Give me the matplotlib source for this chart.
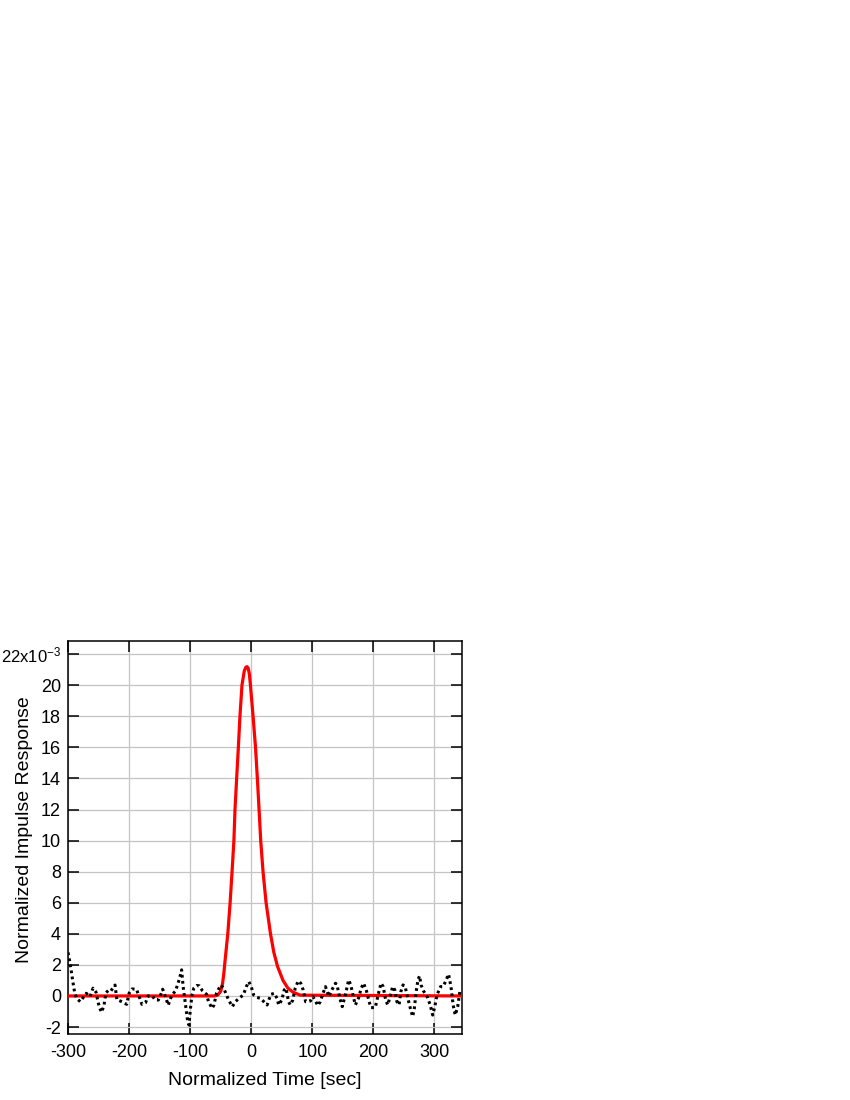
"""
Normalized impulse response: fitted pulse (red) vs. residual noise (dotted).
"""

import numpy as np
import matplotlib.pyplot as plt

plt.rcParams["font.family"] = ["Liberation Sans", "DejaVu Sans"]
plt.rcParams["axes.unicode_minus"] = False
plt.rcParams["mathtext.default"] = "regular"

# ---------- Data (values in units of 1e-3) ----------
t_pulse = [-300, -60, -55, -50, -47, -45, -42.8, -38.4, -34.6, -31.4, -28.4,
           -26.6, -23.9, -21.1, -18.5, -15.2, -11.5, -9, -7, -5, -3, -1.3,
           3, 7, 10, 12.8, 15.5, 19.3, 24.3, 31.5, 37, 43, 52, 60, 68, 80, 345]
y_pulse = [0, 0, 0.05, 0.3, 0.8, 1.4, 2.3, 4, 6, 8, 10,
           12, 14, 16, 18, 20, 20.9, 21.15, 21.2, 21.1, 20.7, 20,
           18, 16, 14, 12, 10, 8, 6, 4, 2.8, 1.9, 1.0, 0.5, 0.25, 0.05, 0]

t_noise = [-300, -298, -295, -292, -289, -286, -280, -275, -270, -264,
           -259, -254, -251, -248, -245, -241, -238, -234, -230, -226,
           -223, -220, -216, -210, -204, -200, -195, -188, -182, -179,
           -173, -169, -162, -157, -152, -148, -145, -140, -136, -130,
           -124, -119, -116, -114, -111.5, -109, -106, -104, -102, -99.5,
           -97, -94, -89, -85, -80, -73, -70, -64, -61, -57,
           -50, -45, -41, -37, -31, -26, -20, -13, -8, -4,
           0, 4, 9.5, 15, 20.5, 26, 32, 38, 42, 45,
           50, 54, 57, 61, 64, 68, 72, 77, 81, 85,
           89, 93, 97, 101, 105, 109, 113, 117.5, 121.5, 127,
           132, 138, 141, 145, 149, 154, 159.5, 163, 167, 170.5,
           176, 180, 184, 189, 193, 196, 203, 209, 212.5, 216,
           220, 223.5, 228, 231.5, 235, 238.5, 242, 245, 248.5, 252,
           255, 260.5, 264.3, 267, 270, 273, 275.5, 278, 282, 288,
           293, 297, 300.5, 304, 310, 314, 318, 323, 327, 330.5,
           334, 338, 341.5, 345]
y_noise = [2.8, 2.4, 1.7, 0.9, 0.2, -0.15, -0.37, -0.1, 0.17, -0.04,
           0.5, 0.24, -0.37, -0.8, -1.05, -0.6, 0.2, 0.35, 0.3, 0.55,
           0.7, -0.25, -0.3, -0.4, -0.54, 0.17, 0.45, 0.43, -0.2, -0.54,
           -0.43, 0.0, 0.0, -0.26, -0.26, 0.1, 0.43, -0.1, -0.6, 0.06,
           0.32, 0.92, 1.35, 1.68, 0.6, -0.15, -1.0, -1.66, -1.87, -0.8,
           0.06, 0.5, 0.67, 0.65, 0.34, 0.1, -0.37, -0.8, -0.58, 0.17,
           0.7, 0.5, 0.1, -0.26, -0.69, -0.37, -0.15, 0.06, 0.6, 0.92,
           0.6, 0.06, -0.1, -0.15, -0.37, -0.58, 0.1, 0.17, -0.15, -0.58,
           -0.26, 0.39, 0.5, -0.37, -0.58, -0.26, 0.5, 0.97, 0.82, 0.39,
           -0.37, -0.37, -0.32, -0.04, -0.32, -0.62, -0.37, 0.17, 0.6, -0.04,
           0.39, 0.82, 0.6, -0.15, -0.69, 0.06, 1.03, 0.7, -0.04, -0.58,
           -0.1, 0.5, 0.82, 0.28, -0.37, -0.75, -0.75, 0.28, 0.82, 0.6,
           -0.26, -0.58, 0.06, 0.6, 0.39, -0.37, -0.58, 0.28, 0.71, 0.6,
           0.06, -0.8, -1.33, -0.8, 0.28, 1.03, 1.29, 0.71, 0.32, -0.04,
           -0.58, -1.23, -0.69, 0.06, 0.6, 0.6, 0.92, 1.4, 0.6, -0.58,
           -1.23, -0.69, 0.28, 0.28]

x_ticks = [-300, -200, -100, 0, 100, 200, 300]
y_ticks = [-2, 0, 2, 4, 6, 8, 10, 12, 14, 16, 18, 20, 22]

# ---------- Figure ----------
fig = plt.figure(figsize=(8.5, 11), dpi=100)
ax = fig.add_axes([0.08, 0.06, 0.4635, 0.3573])

ax.plot(t_pulse, y_pulse, color="#ff0000", lw=2.3, zorder=3)
ax.plot(t_noise, y_noise, color="black", lw=2.2,
        linestyle=(0, (0.9, 1.1)), zorder=4)

ax.set_xlim(-300, 345)
ax.set_ylim(-2.45, 22.85)
ax.set_xticks(x_ticks)
ax.set_yticks(y_ticks)
ax.set_xticklabels([str(v) for v in x_ticks])
ax.set_yticklabels([str(v) for v in y_ticks[:-1]] + ["22x10$^{-3}$"])

ax.grid(True, color="#c4c4c4", lw=0.9)
ax.set_axisbelow(True)
ax.tick_params(direction="in", length=8, width=1.1, top=True, right=True,
               labelsize=13, pad=5)
ax.tick_params(axis="x", pad=7)
ax.get_yticklabels()[-1].set_fontsize(12)
for side in ax.spines.values():
    side.set_linewidth(1.1)

ax.set_xlabel("Normalized Time [sec]", fontsize=14, labelpad=8)
ax.set_ylabel("Normalized Impulse Response", fontsize=14)
ax.yaxis.set_label_coords(-0.088, 0.52)

fig.savefig("out.png", dpi=100)
